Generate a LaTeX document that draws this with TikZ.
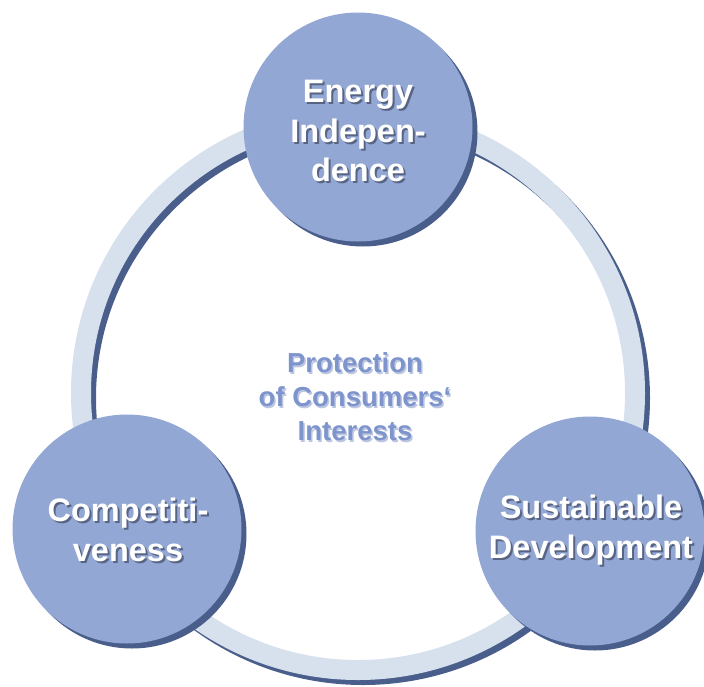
\documentclass[tikz,border=0pt]{standalone}
\usepackage{fontspec}
\setmainfont{Liberation Sans}
\usetikzlibrary{positioning}
\definecolor{ringblue}{RGB}{215,225,238}
\definecolor{bubbleblue}{RGB}{147,167,213}
\definecolor{darkblue}{RGB}{74,94,140}
\definecolor{midblue}{RGB}{126,148,205}
\definecolor{softshade}{RGB}{188,198,224}
\definecolor{textshade}{RGB}{88,100,132}

\begin{document}
\begin{tikzpicture}[x=1pt,y=-1pt,
   bubble/.style={circle,fill=bubbleblue,minimum size=229pt,inner sep=0pt},
   bubbleshade/.style={bubble,fill=darkblue},
   bubbletext/.style={text=white,align=center,font=\bfseries\fontsize{32.5}{39.5}\selectfont},
   bubbleshadetext/.style={bubbletext,text=textshade},
   coretext/.style={text=midblue,align=center,font=\bfseries\fontsize{27.5}{34}\selectfont},
   coreshadetext/.style={coretext,text=softshade}]
   \useasboundingbox (0,0) rectangle (704,686);
   % the ring and its shadow
   \draw[darkblue,line width=20pt] (363,398) circle (277pt);
   \draw[ringblue,line width=20pt] (358,393) circle (277pt);

   \node[bubbleshade] (energy-sh) at (363,132) {};
   \node[bubble] (energy) at (358,127) {};
   \node[bubbleshade] (compet-sh) at (132,534) {};
   \node[bubble] (compet) at (127,529) {};
   \node[bubbleshade] (sustain-sh) at (595,536) {};
   \node[bubble] (sustain) at (590,531) {};

   \node[bubbleshadetext] (energy-txt-sh) at (360,133) {Energy\\Indepen-\\dence};
   \node[bubbletext] (energy-txt) at (358,131) {Energy\\Indepen-\\dence};
   \node[bubbleshadetext] (compet-txt-sh) at (130,532) {Competiti-\\veness};
   \node[bubbletext] (compet-txt) at (128,530) {Competiti-\\veness};
   \node[bubbleshadetext] (sustain-txt-sh) at (593,532) {Sustainable\\Development};
   \node[bubbletext] (sustain-txt) at (591,530) {Sustainable\\Development};

   \node[coreshadetext] (core-sh) at (356.5,398.5) {Protection\\of Consumers‘\\Interests};
   \node[coretext] (core) at (355,397) {Protection\\of Consumers‘\\Interests};
\end{tikzpicture}
\end{document}
